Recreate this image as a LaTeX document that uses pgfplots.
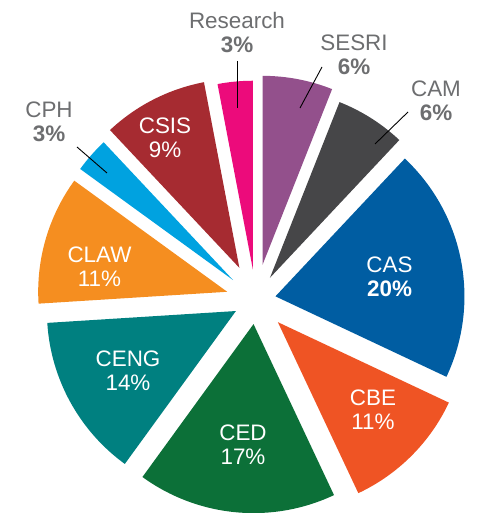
\documentclass[border=0pt]{standalone}
\usepackage{fontspec}
\setmainfont{Liberation Sans}
\usepackage{pgfplots}
\usepackage{pgfplotstable}
\pgfplotsset{compat=1.18}

\definecolor{slice0}{HTML}{93508C}% SESRI
\definecolor{slice1}{HTML}{464648}% CAM
\definecolor{slice2}{HTML}{005DA2}% CAS
\definecolor{slice3}{HTML}{EF5424}% CBE
\definecolor{slice4}{HTML}{0C7038}% CED
\definecolor{slice5}{HTML}{008080}% CENG
\definecolor{slice6}{HTML}{F58E20}% CLAW
\definecolor{slice7}{HTML}{00A2E0}% CPH
\definecolor{slice8}{HTML}{A62B31}% CSIS
\definecolor{slice9}{HTML}{EC0B7B}% Research
\definecolor{labelgray}{HTML}{6D6E70}

% share in percent, explode offset of each slice (bp)
\pgfplotstableread{
name     pct  explode
SESRI    6    35.9
CAM      6    26.4
CAS      20   20.0
CBE      11   31.2
CED      17   24.1
CENG     14   22.7
CLAW     11   29.8
CPH      3    30.3
CSIS     9    36.2
Research 3    30.5
}\piedata

\newcommand\lbl{\fontsize{22.5}{24.5}\selectfont}

\begin{document}
\begin{tikzpicture}
\begin{axis}[
  width=477bp,height=513bp,scale only axis,
  xmin=0,xmax=477,ymin=0,ymax=513,
  hide axis,clip=false
]
\coordinate (sw) at (rel axis cs:0,0);
\coordinate (ne) at (rel axis cs:1,1);
\def\cum{0}
\pgfplotsforeachungrouped \i in {0,...,9}{%
  \pgfplotstablegetelem{\i}{pct}\of\piedata \let\pct\pgfplotsretval
  \pgfplotstablegetelem{\i}{explode}\of\piedata \let\ex\pgfplotsretval
  \pgfmathsetmacro\sa{90-3.6*\cum}
  \pgfmathsetmacro\ea{90-3.6*(\cum+\pct)}
  \pgfmathsetmacro\ba{(\sa+\ea)/2}
  \pgfmathsetmacro\ax{255.8+\ex*cos(\ba)}
  \pgfmathsetmacro\ay{212.9+\ex*sin(\ba)}
  \pgfmathsetmacro\cum{\cum+\pct}
  \edef\temp{\noexpand\fill[slice\i] (axis cs:\ax,\ay) -- ++(\sa:189bp)
    arc[start angle=\sa, end angle=\ea, radius=189bp] -- cycle;}
  \temp
}

% leader lines
\draw[line width=0.9bp] (axis cs:237,452) -- (axis cs:237,405);
\draw[line width=0.9bp] (axis cs:322,446) -- (axis cs:300,405);
\draw[line width=0.9bp] (axis cs:408,401) -- (axis cs:375,369);
\draw[line width=0.9bp] (axis cs:77,366) -- (axis cs:107,340);

% outside labels
\node[font=\lbl,text=labelgray,align=center] at (axis cs:237,480.5) {Research\\\textbf{3\%}};
\node[font=\lbl,text=labelgray,align=center] at (axis cs:354,458) {SESRI\\\textbf{6\%}};
\node[font=\lbl,text=labelgray,align=center] at (axis cs:436,412) {CAM\\\textbf{6\%}};
\node[font=\lbl,text=labelgray,align=center] at (axis cs:49,391) {CPH\\\textbf{3\%}};

% inside labels
\node[font=\lbl,text=white,align=center] at (axis cs:165,375.5) {CSIS\\9\%};
\node[font=\lbl,text=white,align=center] at (axis cs:389.5,236.5) {CAS\\\textbf{20\%}};
\node[font=\lbl,text=white,align=center] at (axis cs:373,103) {CBE\\11\%};
\node[font=\lbl,text=white,align=center] at (axis cs:243,68) {CED\\17\%};
\node[font=\lbl,text=white,align=center] at (axis cs:128,142.5) {CENG\\14\%};
\node[font=\lbl,text=white,align=center] at (axis cs:99.5,246.5) {CLAW\\11\%};
\end{axis}
\pgfresetboundingbox
\useasboundingbox (sw) rectangle (ne);
\end{tikzpicture}
\end{document}
